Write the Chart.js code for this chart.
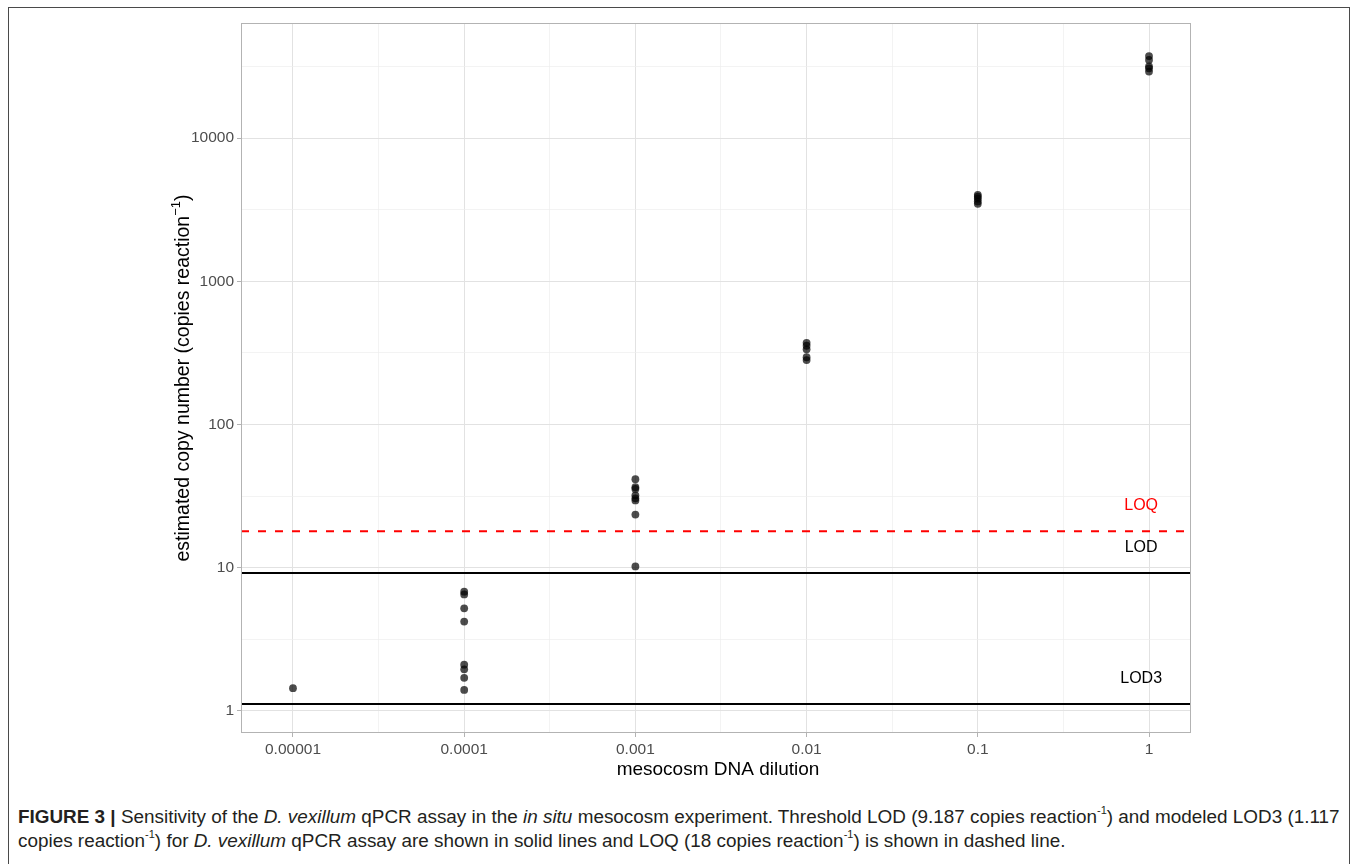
<!DOCTYPE html>
<html>
<head>
<meta charset="utf-8">
<title>qPCR sensitivity – mesocosm dilution series</title>
<script src="https://cdn.jsdelivr.net/npm/chart.js@4.4.1/dist/chart.umd.min.js"></script>
<style>
  html, body { margin: 0; padding: 0; background: #ffffff; }
  body { width: 1357px; height: 864px; position: relative; overflow: hidden;
         font-family: "Liberation Sans", Arial, Helvetica, sans-serif; }
  #frame { position: absolute; left: 8px; top: 7px; width: 1342px; height: 900px;
           border: 1px solid #4a4a4a; box-sizing: border-box; }
  #wrap { position: absolute; left: 0; top: 0; width: 1357px; height: 800px; }
  #caption { position: absolute; left: 18px; top: 805px; font-size: 18.9px; line-height: 24px;
             color: #231f20; white-space: nowrap; }
  #caption sup { font-size: 11px; position: relative; top: -2px; line-height: 0; }
</style>
</head>
<body>
<div id="frame"></div>
<div id="wrap"><canvas id="chart"></canvas></div>
<div id="caption"><b>FIGURE 3 |</b> Sensitivity of the <i>D. vexillum</i> qPCR assay in the <i>in situ</i> mesocosm experiment. Threshold LOD (9.187 copies reaction<sup>-1</sup>) and modeled LOD3 (1.117<br>copies reaction<sup>-1</sup>) for <i>D. vexillum</i> qPCR assay are shown in solid lines and LOQ (18 copies reaction<sup>-1</sup>) is shown in dashed line.</div>

<script>
// Dilution levels of the mesocosm DNA extract (x) and estimated copies per reaction (y)
const dilutions = [0.00001, 0.0001, 0.001, 0.01, 0.1, 1];
const copiesAt1e5 = [1.44];
const copiesAt1e4 = [6.8, 6.5, 5.2, 4.2, 2.1, 1.95, 1.7, 1.4];
const copiesAt1e3 = [41.5, 36.5, 35.5, 32, 30.5, 29.5, 23.5, 10.2];
const copiesAt1e2 = [372, 355, 335, 295, 282];
const copiesAt1e1 = [4020, 3900, 3780, 3620, 3480];
const copiesAt1e0 = [37500, 35200, 31800, 30800, 29200];
const replicateSets = [copiesAt1e5, copiesAt1e4, copiesAt1e3, copiesAt1e2, copiesAt1e1, copiesAt1e0];

// Detection / quantification thresholds (copies reaction^-1)
const thresholdNames  = ["LOQ", "LOD", "LOD3"];
const thresholdValues = [18, 9.187, 1.117];

// Axis extents and breaks
const xLimits = [4.97e-6, 1.759];
const yLimits = [0.702, 63800];
const xTickValues = [0.00001, 0.0001, 0.001, 0.01, 0.1, 1];
const xTickLabels = ["0.00001", "0.0001", "0.001", "0.01", "0.1", "1"];
const xMinorValues = [3.162e-5, 3.162e-4, 3.162e-3, 3.162e-2, 0.3162];
const yTickValues = [1, 10, 100, 1000, 10000];
const yTickLabels = ["1", "10", "100", "1000", "10000"];
const yMinorValues = [3.162, 31.62, 316.2, 3162, 31620];

// Threshold labels sit just left of the last dilution, 1.5x above their line
const labelX = 0.9;
const labelYFactor = 1.5;

const FONT = '"Liberation Sans", Arial, Helvetica, sans-serif';

const points = [];
replicateSets.forEach((set, i) => set.forEach(v => points.push({ x: dilutions[i], y: v })));

function thresholdLine(value, color, dash) {
  return {
    type: 'line',
    data: [{ x: xLimits[0], y: value }, { x: xLimits[1], y: value }],
    borderColor: color,
    borderWidth: 2,
    borderDash: dash,
    pointRadius: 0,
    showLine: true,
    fill: false,
    order: 1
  };
}

function gridStyle(majors) {
  return {
    color: ctx => (ctx.tick && majors.includes(ctx.tick.value)) ? '#e2e2e2' : '#eeeeee',
    lineWidth: ctx => (ctx.tick && majors.includes(ctx.tick.value)) ? 1 : 0.7,
    tickColor: ctx => (ctx.tick && majors.includes(ctx.tick.value)) ? '#b3b3b3' : 'rgba(0,0,0,0)',
    tickLength: 4,
    tickWidth: 1,
    drawOnChartArea: true,
    drawTicks: true
  };
}

const decorations = {
  id: 'decorations',
  afterDatasetsDraw(chart) {
    const { ctx, scales } = chart;
    ctx.save();
    ctx.font = '16px ' + FONT;
    ctx.textAlign = 'center';
    ctx.textBaseline = 'middle';
    thresholdNames.forEach((name, i) => {
      ctx.fillStyle = name === 'LOQ' ? '#ff0000' : '#000000';
      ctx.fillText(name, scales.x.getPixelForValue(labelX),
                   scales.y.getPixelForValue(thresholdValues[i] * labelYFactor));
    });
    ctx.restore();
  },
  afterDraw(chart) {
    const { ctx, chartArea: a } = chart;
    ctx.save();
    // panel border
    ctx.strokeStyle = '#b3b3b3';
    ctx.lineWidth = 1;
    ctx.strokeRect(Math.round(a.left) + 0.5, Math.round(a.top) + 0.5,
                   Math.round(a.right - a.left) - 1, Math.round(a.bottom - a.top) - 1);

    // x axis title
    ctx.fillStyle = '#000000';
    ctx.font = '19px ' + FONT;
    ctx.textAlign = 'center';
    ctx.textBaseline = 'alphabetic';
    ctx.fillText('mesocosm DNA dilution', (a.left + a.right) / 2 + 2, 775);

    // y axis title with superscript
    const main = 'estimated copy number (copies reaction';
    const sup = '\u22121';
    const tail = ')';
    ctx.font = '19.5px ' + FONT;
    const wMain = ctx.measureText(main).width;
    const wTail = ctx.measureText(tail).width;
    ctx.font = '13px ' + FONT;
    const wSup = ctx.measureText(sup).width;
    const total = wMain + wSup + wTail;
    ctx.translate(189, (a.top + a.bottom) / 2);
    ctx.rotate(-Math.PI / 2);
    ctx.textAlign = 'left';
    let x0 = -total / 2;
    ctx.font = '19.5px ' + FONT;
    ctx.fillText(main, x0, 0);
    ctx.font = '13px ' + FONT;
    ctx.fillText(sup, x0 + wMain, -9);
    ctx.font = '19.5px ' + FONT;
    ctx.fillText(tail, x0 + wMain + wSup, 0);
    ctx.restore();
  }
};

new Chart(document.getElementById('chart'), {
  type: 'scatter',
  data: {
    datasets: [
      {
        type: 'scatter',
        data: points,
        backgroundColor: 'rgba(0,0,0,0.7)',
        borderWidth: 0,
        pointRadius: 3.9,
        order: 0
      },
      thresholdLine(thresholdValues[0], '#ff0000', [8, 9]),
      thresholdLine(thresholdValues[1], '#000000', []),
      thresholdLine(thresholdValues[2], '#000000', [])
    ]
  },
  options: {
    responsive: true,
    maintainAspectRatio: false,
    animation: false,
    devicePixelRatio: 1,
    layout: { padding: { left: 150, right: 166, top: 23, bottom: 17 } },
    plugins: { legend: { display: false }, tooltip: { enabled: false } },
    scales: {
      x: {
        type: 'logarithmic',
        position: 'bottom',
        min: xLimits[0],
        max: xLimits[1],
        afterBuildTicks: s => {
          s.ticks = xTickValues.concat(xMinorValues).sort((p, q) => p - q).map(v => ({ value: v }));
        },
        afterFit: s => { s.height = 50; },
        border: { display: false },
        grid: gridStyle(xTickValues),
        ticks: {
          autoSkip: false,
          maxRotation: 0,
          padding: 3,
          color: '#4d4d4d',
          font: { family: FONT, size: 15.5 },
          callback: v => { const i = xTickValues.indexOf(v); return i >= 0 ? xTickLabels[i] : ''; }
        },
        title: { display: false }
      },
      y: {
        type: 'logarithmic',
        min: yLimits[0],
        max: yLimits[1],
        afterBuildTicks: s => {
          s.ticks = yTickValues.concat(yMinorValues).sort((p, q) => p - q).map(v => ({ value: v }));
        },
        afterFit: s => { s.width = 91; },
        border: { display: false },
        grid: gridStyle(yTickValues),
        ticks: {
          autoSkip: false,
          padding: 3,
          color: '#4d4d4d',
          font: { family: FONT, size: 15.5 },
          callback: v => { const i = yTickValues.indexOf(v); return i >= 0 ? yTickLabels[i] : ''; }
        },
        title: { display: false }
      }
    }
  },
  plugins: [decorations]
});
</script>
</body>
</html>
